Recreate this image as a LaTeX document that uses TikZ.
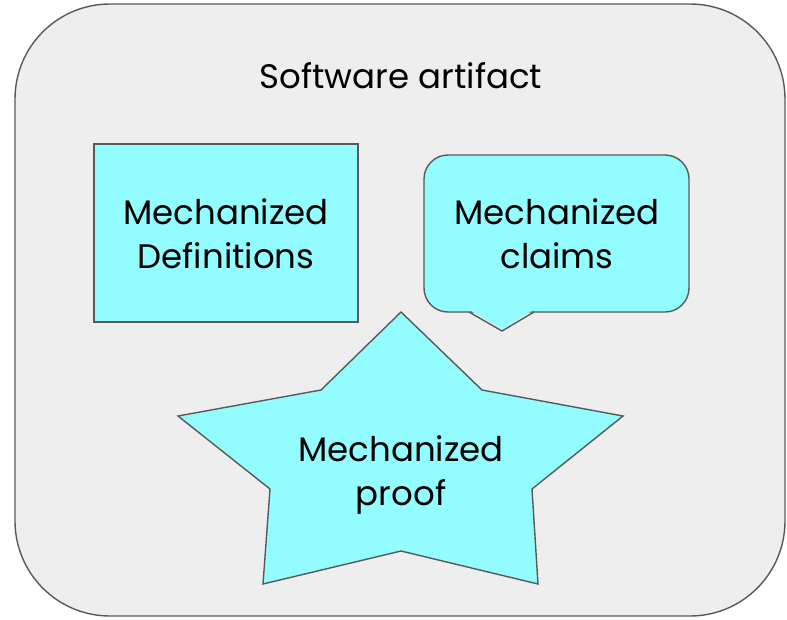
\documentclass[tikz,border=0pt]{standalone}
\usepackage{fontspec}
\setmainfont{Poppins}
\definecolor{bgfill}{RGB}{238,238,238}
\definecolor{edge}{RGB}{89,89,89}
\definecolor{cyanfill}{RGB}{147,252,255}
\tikzset{
  shapeline/.style={draw=edge, line width=1.4pt, line join=miter},
  label/.style={align=center, font=\fontsize{34}{44}\selectfont, inner sep=0pt, anchor=base, text=black},
}
\begin{document}
\begin{tikzpicture}[x=1pt,y=-1pt]
\useasboundingbox (0,0) rectangle (787,619);
% outer artifact box
\draw[shapeline, fill=bgfill, rounded corners=95pt] (15,4) rectangle (785,616);
\node[label] (title) at (401,88) {Software artifact};
% definitions box
\draw[shapeline, fill=cyanfill] (94,144) rectangle (358,322);
\node[label] (defs) at (226,268) {Mechanized\\Definitions};
% claims callout
\draw[shapeline, fill=cyanfill, rounded corners=24pt] (424,155) rectangle (689,312);
\fill[cyanfill] (470,310.2) -- (502,329) -- (533,310.2) -- cycle;
\draw[shapeline] (469,312) -- (502,331) -- (534,312);
\node[label] (claims) at (557,268) {Mechanized\\claims};
% proof star
\draw[shapeline, fill=cyanfill]
  (401,312) -- (482,390) -- (623,416) -- (532,489) -- (538,584) -- (401,551)
  -- (263,584) -- (270,489) -- (178,416) -- (321,390) -- cycle;
\node[label] (proof) at (401,505) {Mechanized\\proof};
\end{tikzpicture}
\end{document}
